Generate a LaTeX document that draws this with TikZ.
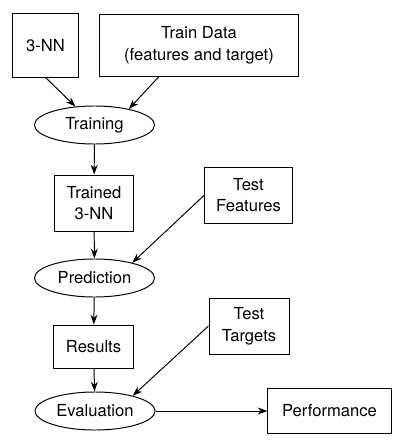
\documentclass[tikz,border=0pt]{standalone}
\usepackage{fontspec}
\setmainfont{TeX Gyre Heros}
\usetikzlibrary{shapes.geometric,arrows.meta}

\begin{document}
\begin{tikzpicture}[x=0.025cm, y=-0.025cm,
  every node/.style={font=\fontsize{11.8}{15.5}\selectfont, align=center, line width=0.7pt},
  box/.style={draw, rectangle, inner sep=0pt},
  oval/.style={draw, ellipse, inner sep=0pt, minimum width=3cm, minimum height=0.95cm},
  flow/.style={-{Stealth[length=7pt,width=5pt]}, line width=0.7pt}]

\useasboundingbox (0,0) rectangle (400,440);

\node[box, minimum width=1.625cm, minimum height=1.575cm] (nn) at (45.5,45.5) {3-NN};
\node[box, minimum width=4.95cm, minimum height=1.525cm] (data) at (199,45.5) {Train Data\\(features and target)};

\node[oval] (training) at (94.5,125) {Training};

\node[box, minimum width=1.95cm, minimum height=1.4cm] (trained) at (94,203) {Trained\\3-NN};
\node[box, minimum width=2.175cm, minimum height=1.4cm] (feat) at (248.5,195) {Test\\Features};

\node[oval] (prediction) at (94.5,278) {Prediction};

\node[box, minimum width=1.975cm, minimum height=1.075cm] (results) at (93.5,346.5) {Results};
\node[box, minimum width=2cm, minimum height=1.4cm] (targets) at (249,326) {Test\\Targets};

\node[oval] (evaluation) at (95,411) {Evaluation};
\node[box, minimum width=3.075cm, minimum height=1.125cm] (perf) at (329.5,411) {Performance};

\draw[flow] (nn.south) -- (training);
\draw[flow] ([xshift=-1cm]data.south) -- (training.25);
\draw[flow] (training) -- (trained);
\draw[flow] (trained) -- (prediction);
\draw[flow] (feat.west) -- (prediction.22);
\draw[flow] (prediction) -- (results);
\draw[flow] (results) -- (evaluation);
\draw[flow] (targets.west) -- (evaluation.22);
\draw[flow] (evaluation) -- (perf);
\end{tikzpicture}
\end{document}
